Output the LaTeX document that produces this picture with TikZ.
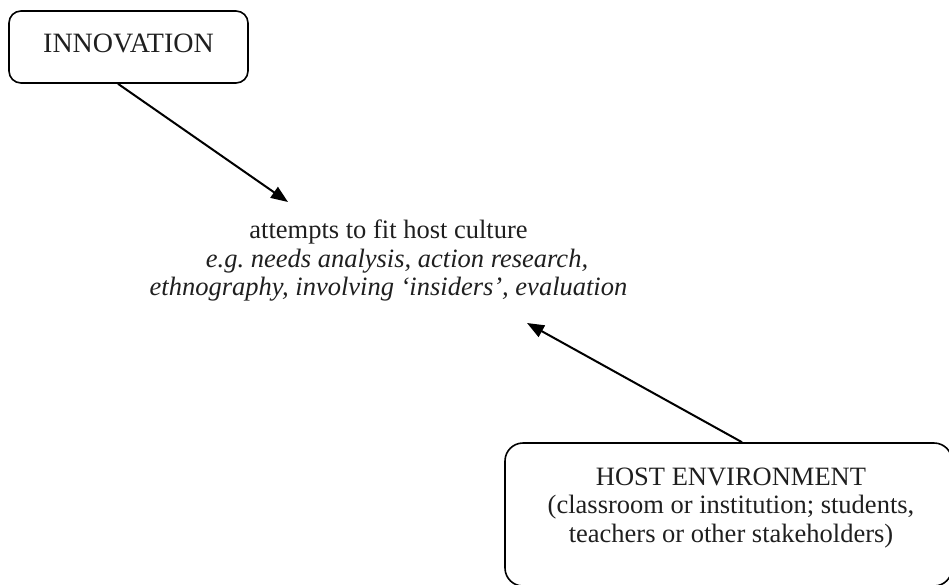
\documentclass[tikz,border=0pt]{standalone}
\usepackage{fontspec}
\setmainfont{Liberation Serif}
\usetikzlibrary{arrows.meta}
\begin{document}
\begin{tikzpicture}[x=1pt,y=-1pt,
  every node/.style={text=black!88, font=\fontsize{26.5}{28.5}\selectfont},
  roundbox/.style={draw, line width=1.6pt, rounded corners=#1, inner sep=0pt},
  txt/.style={align=center, inner sep=0pt},
  arr/.style={line width=2pt, -{Triangle[length=17pt,width=13pt]}}
]
\useasboundingbox (0,0) rectangle (949,584);
% INNOVATION box
\node[roundbox=12pt, minimum width=239pt, minimum height=72pt, text depth=7.5pt, text height=18.5pt,
  font=\fontsize{28}{30}\selectfont] (innov) at (128.5,47) {INNOVATION};
% central text
\node[txt, anchor=north] (fit) at (388.5,220) {attempts to fit host culture\\
  \hspace*{17pt}\itshape e.g.\ needs analysis, action research,\\
  \itshape ethnography, involving `insiders', evaluation};
% HOST ENVIRONMENT box
\node[roundbox=18pt, minimum width=447pt, minimum height=143pt] (host) at (728.5,514.5) {};
\node[txt, anchor=north] (hosttxt) at (731,467.5) {HOST ENVIRONMENT\\
  (classroom or institution; students,\\
  teachers or other stakeholders)};
% arrow tips
\coordinate (t1) at (288,202);
\coordinate (t2) at (527,323);
\draw[arr] ([xshift=-10.5pt]innov.south) -- (t1);
\draw[arr] ([xshift=13.5pt]host.north) -- (t2);
\end{tikzpicture}
\end{document}
